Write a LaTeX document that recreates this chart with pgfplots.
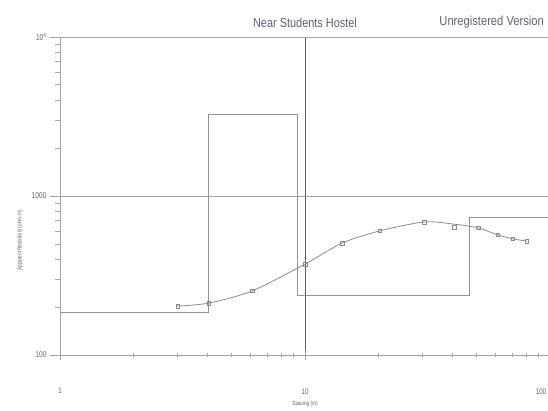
\documentclass[border=0pt]{standalone}
\usepackage{pgfplots}
\pgfplotsset{compat=1.18}
\usepackage{fontspec}
\setmainfont{Liberation Sans}
\newfontfamily\narrow[FakeStretch=0.78]{Liberation Sans}
\newfontfamily\narrowb[FakeStretch=0.84]{Liberation Sans}
\definecolor{txt}{RGB}{95,95,122}
\definecolor{ln}{RGB}{165,165,165}
\definecolor{dk}{RGB}{95,95,95}
\definecolor{cv}{RGB}{140,140,140}
\begin{document}
\begin{tikzpicture}[x=1pt,y=1pt]
\useasboundingbox (0,0) rectangle (548,411);
\clip (0,0) rectangle (548,411);
\begin{axis}[
  at={(60pt,56pt)}, anchor=south west,
  scale only axis, width=490pt, height=318pt,
  xmode=log, ymode=log,
  xmin=1, xmax=100, ymin=100, ymax=10000,
  clip=false,
  axis line style={ln, line width=0.9pt},
  xtick={1,10,100}, xticklabels={1,10,\hspace*{-18pt}100},
  ytick={100,1000,10000}, yticklabels={100,1000,10\textsuperscript{4}},
  xtick pos=bottom, ytick pos=left,
  xtick align=center, ytick align=outside,
  major tick length=10pt, minor tick length=5pt,
  tick style={ln, line width=0.7pt},
  xmajorgrids, ymajorgrids,
  major x grid style={dk, line width=0.9pt},
  major y grid style={ln, line width=0.9pt},
  ticklabel style={text=txt},
  xticklabel style={font=\narrow\fontsize{8}{8}\selectfont, yshift=-25pt},
  yticklabel style={font=\narrow\fontsize{8.5}{8.5}\selectfont},
  title={Near Students Hostel},
  title style={font=\narrowb\fontsize{13}{13}\selectfont, text=txt, at={(rel axis cs:0.5,1)}, anchor=base, yshift=3pt},
]
% layered model (step line)
\addplot[const plot, ln!90!black, line width=0.9pt] coordinates {
  (1,184) (4.02,3280) (9.3,238) (47,728) (100,728)
};
% smooth fitted curve
\addplot[smooth, tension=0.5, cv, line width=0.8pt] coordinates {
  (3.0,203) (4.05,212) (6.08,253) (10,373) (14.2,506) (20.2,603) (30.6,686) (40.6,665) (50.9,630) (61.3,569) (70.6,537) (80.5,521)
};
% field data points
\addplot[only marks, mark=square, mark size=1.8pt, mark options={cv, line width=0.6pt}] coordinates {
  (3.03,203) (4.05,212) (6.08,253) (10,373) (14.2,506) (20.2,603) (30.6,686) (40.6,638) (50.9,630) (61.3,569) (70.6,537) (80.5,521)
};
\node[font=\fontsize{13}{13}\selectfont, text=txt, anchor=base west, inner sep=0pt] at ([xshift=-2pt, yshift=11pt] rel axis cs:0.778,1) {\addfontfeature{FakeStretch=0.86}Unregistered Version};
\node[font=\narrow\fontsize{6}{6}\selectfont, text=txt, anchor=base] at ([yshift=-51pt] rel axis cs:0.5,0) {Spacing (m)};
\node[font=\narrow\fontsize{6}{6}\selectfont, text=txt, rotate=90] at ([xshift=-40pt] rel axis cs:0,0.36) {Apparent Resistivity (ohm-m)};
\end{axis}
\end{tikzpicture}
\end{document}
